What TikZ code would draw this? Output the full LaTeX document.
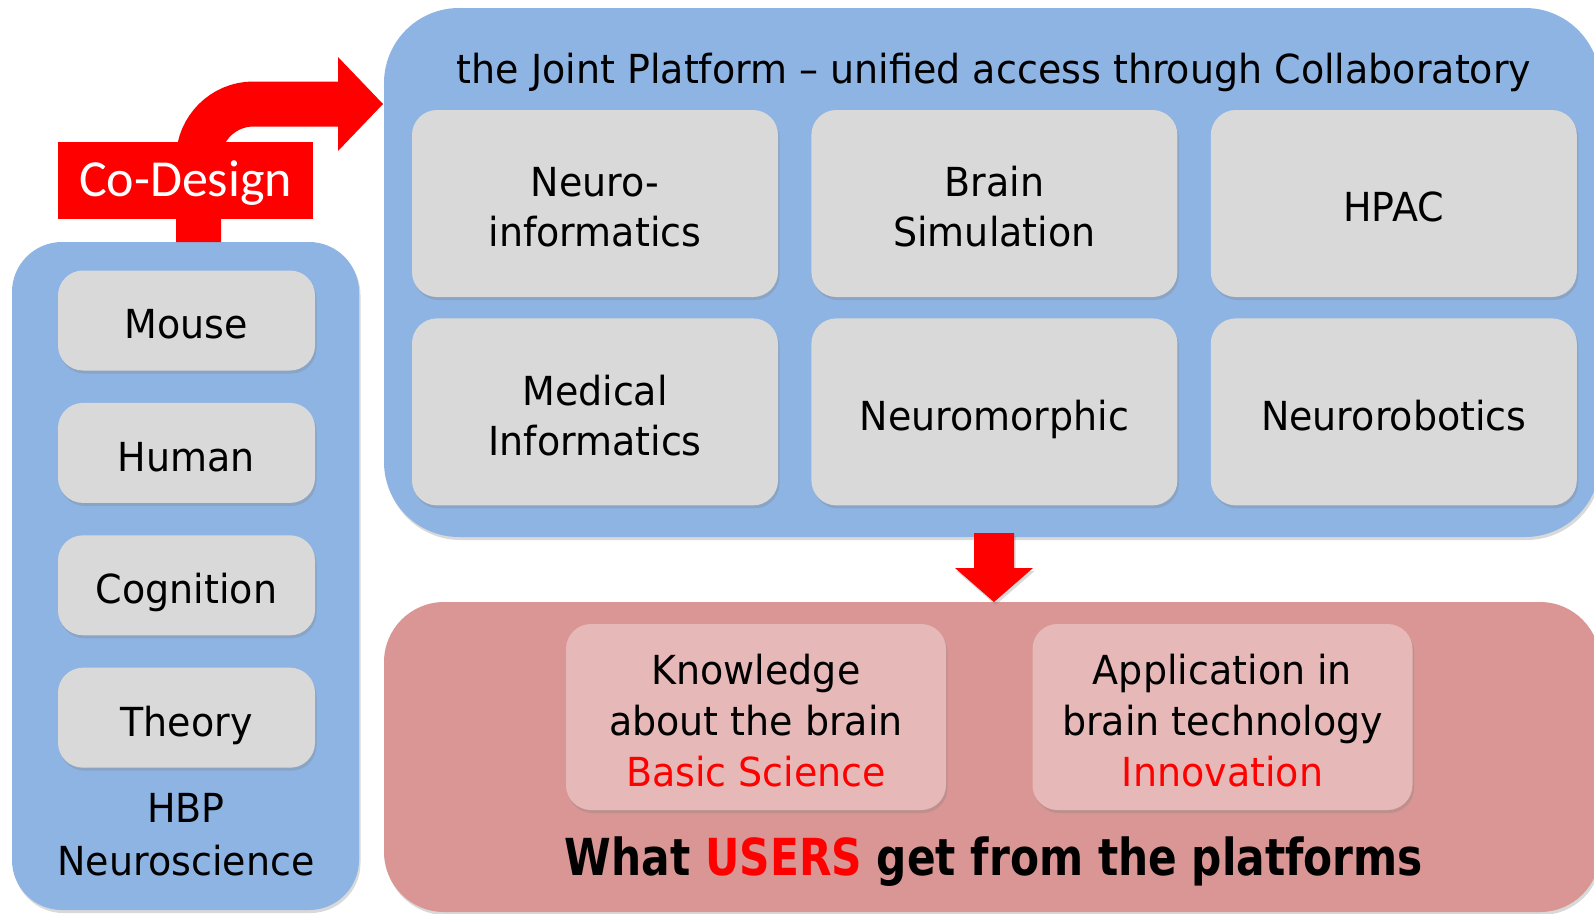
\documentclass[tikz,border=0pt]{standalone}
\usepackage{fontspec}
\setmainfont{DejaVu Sans}[FakeStretch=0.95]
\newfontfamily\usersfont{DejaVu Sans}[FakeStretch=0.83]
\newfontfamily\codesignfont{Carlito}
\usepackage{xcolor}
\usetikzlibrary{positioning,calc,shadows}

\definecolor{panelblue}{HTML}{8EB4E3}
\definecolor{panelred}{HTML}{D99694}
\definecolor{tilegrey}{HTML}{D9D9D9}
\definecolor{tilepink}{HTML}{E6B9B8}
\definecolor{codered}{HTML}{FF0000}

% struts that set the text a little low, as in the slide
\newcommand\tstrut{\rule{0pt}{1.15em}}
\newcommand\bstrut{\rule[-0.23em]{0pt}{0.23em}}

\tikzset{
  softshadow/.style={drop shadow={shadow xshift=1.5pt,shadow yshift=-3pt,opacity=0.3}},
  panel/.style={inner sep=0pt, softshadow},
  tile/.style={fill=tilegrey, rounded corners=25pt, align=center, inner sep=0pt,
    font=\fontsize{40}{50}\selectfont, softshadow},
  bigtile/.style={tile, minimum width=366pt, minimum height=187pt},
  smalltile/.style={tile, minimum width=257pt, minimum height=100pt},
  outtile/.style={tile, fill=tilepink, minimum width=380pt, minimum height=186pt,
    font=\fontsize{40}{51}\selectfont},
}

\begin{document}
\begin{tikzpicture}[x=1pt,y=-1pt]
    \useasboundingbox (0,0) rectangle (1594,913);

    % Panels
    \node[panel, fill=panelblue, rounded corners=75pt, minimum width=1216pt, minimum height=529pt] (platform) at (992,272.5) {};
    \node[panel, fill=panelblue, rounded corners=50pt, minimum width=347pt, minimum height=668pt] (neuro) at (185.5,576) {};
    \node[panel, fill=panelred, rounded corners=60pt, minimum width=1216pt, minimum height=310pt] (users) at (992,757) {};

    % Joint Platform
    \node[font=\fontsize{40}{50}\selectfont, anchor=base] (title) at (994,83) {the Joint Platform – unified access through Collaboratory};
    \node[bigtile] (neuroinf) at (595,203.5) {\tstrut Neuro-\\informatics\bstrut};
    \node[bigtile, right=33pt of neuroinf] (brainsim) {\tstrut Brain\\Simulation\bstrut};
    \node[bigtile, right=33pt of brainsim] (hpac) {\tstrut HPAC\bstrut};
    \node[bigtile, below=21pt of neuroinf] (medinf) {\tstrut Medical\\Informatics\bstrut};
    \node[bigtile, right=33pt of medinf] (neuromorph) {\tstrut Neuromorphic\bstrut};
    \node[bigtile, right=33pt of neuromorph] (robotics) {\tstrut Neurorobotics\bstrut};

    % HBP Neuroscience
    \node[smalltile] (mouse) at (186.5,320.5) {\tstrut Mouse\bstrut};
    \node[smalltile, below=32pt of mouse] (human) {\tstrut Human\bstrut};
    \node[smalltile, below=32pt of human] (cognition) {\tstrut Cognition\bstrut};
    \node[smalltile, below=32pt of cognition] (theory) {\tstrut Theory\bstrut};
    \node[font=\fontsize{40}{53}\selectfont, align=center] (hbp) at (186,835) {HBP\\Neuroscience};

    % Co-Design arrow
    \coordinate (stembase) at (198.5,242);
    \coordinate (shaftend) at (338,104);
    \draw[codered, line width=45pt, rounded corners=55pt] (stembase) |- (shaftend);
    \fill[codered] (338,57) -- (383,104) -- (338,151) -- cycle;
    \node[fill=codered, text=white, minimum width=255pt, minimum height=77pt, inner sep=0pt,
      font=\codesignfont\fontsize{52}{60}\selectfont] (codesign) at (185.5,180.5) {\rule{0pt}{0.8em}Co-Design};

    % Platform to users
    \fill[codered, softshadow] (974,533) -- (1014,533) -- (1014,568) -- (1033,568)
      -- (994,602) -- (955,568) -- (974,568) -- cycle;

    % What users get
    \node[outtile] (science) at (756,717) {\tstrut Knowledge\\about the brain\\\textcolor{codered}{Basic Science}\bstrut};
    \node[outtile] (innovation) at (1222.5,717) {\tstrut Application in\\brain technology\\\textcolor{codered}{Innovation}\bstrut};
    \node[font=\usersfont\fontsize{51}{60}\selectfont\bfseries, anchor=base] (usersline) at (994,875) {What \textcolor{codered}{USERS} get from the platforms};
\end{tikzpicture}
\end{document}
